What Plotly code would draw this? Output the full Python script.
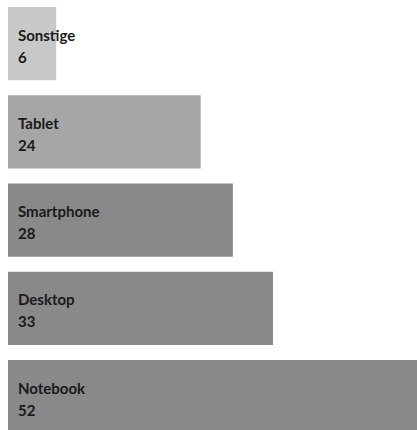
import plotly.graph_objects as go

categories = ["Sonstige", "Tablet", "Smartphone", "Desktop", "Notebook"]
values = [6, 24, 28, 33, 52]
colors = ["#c8c8c8", "#a6a6a6", "#898989", "#898989", "#898989"]

fig = go.Figure()
fig.add_trace(go.Bar(
    x=values, y=categories, orientation="h",
    marker=dict(color=colors, line=dict(width=0)),
    hoverinfo="skip",
))

font = dict(family="Lato, 'Open Sans', sans-serif", size=15, color="#1a1a1a")
for c, v in zip(categories, values):
    fig.add_annotation(x=0, y=c, text=f"<b>{c}</b>", showarrow=False,
                       xanchor="left", yanchor="middle", xshift=8, yshift=9, font=font)
    fig.add_annotation(x=0, y=c, text=f"<b>{v}</b>", showarrow=False,
                       xanchor="left", yanchor="middle", xshift=8, yshift=-13, font=font)

fig.update_layout(
    width=417, height=430,
    margin=dict(l=8, r=0, t=0, b=0),
    plot_bgcolor="white", paper_bgcolor="white",
    bargap=0.17,
    showlegend=False,
    xaxis=dict(range=[0, 409 / 8.03], visible=False, fixedrange=True),
    yaxis=dict(categoryorder="array", categoryarray=categories[::-1],
               range=[-0.378, 4.495], visible=False, fixedrange=True),
)

fig.write_html("out.html", config={"displayModeBar": False})
